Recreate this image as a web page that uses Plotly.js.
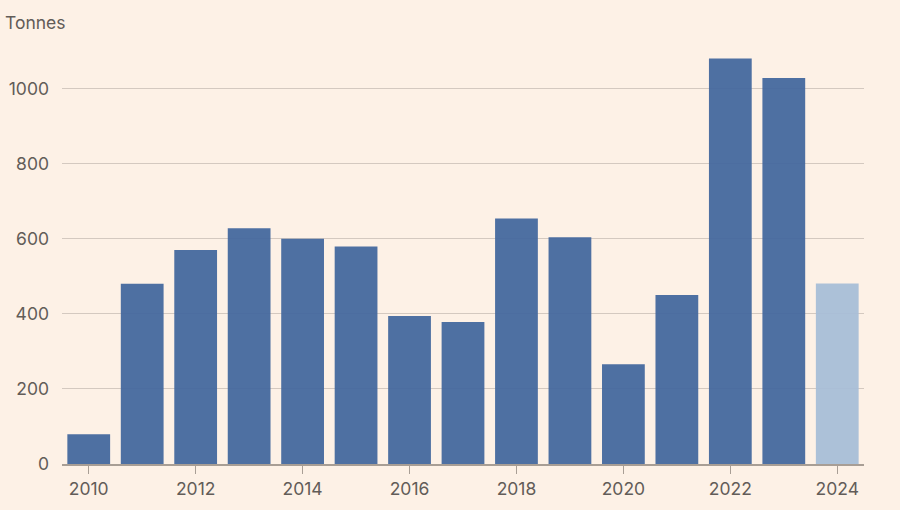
<!DOCTYPE html>
<html>
<head>
<meta charset="utf-8">
<script src="https://cdn.plot.ly/plotly-3.0.1.min.js"></script>
<style>html,body{margin:0;padding:0;background:#fdf1e6;}#chart{width:900px;height:510px;}</style>
</head>
<body>
<div id="chart"></div>
<script>
const years = [2010, 2011, 2012, 2013, 2014, 2015, 2016, 2017, 2018, 2019, 2020, 2021, 2022, 2023, 2024];
const tonnes = [79, 480, 570, 628, 600, 579, 394, 378, 654, 604, 266, 450, 1080, 1028, 481];
const provisionalYear = 2024;
const yTicks = [0, 200, 400, 600, 800, 1000];
const unitLabel = "Tonnes";

const barColors = years.map(y => y === provisionalYear ? "rgba(168,190,215,0.95)" : "rgba(68,104,158,0.95)");

const trace = {
  type: "bar",
  x: years,
  y: tonnes,
  marker: {color: barColors, line: {width: 0}},
  hoverinfo: "x+y"
};

const font = {family: "Inter, Lato, 'Open Sans', sans-serif", size: 17.5, color: "#625c58"};

const layout = {
  width: 900, height: 510,
  paper_bgcolor: "#fdf1e6",
  plot_bgcolor: "#fdf1e6",
  margin: {l: 62, r: 35.5, t: 50.7, b: 45.7},
  bargap: 0.2,
  showlegend: false,
  font: font,
  xaxis: {
    range: [2009.5, 2024.5],
    tickmode: "linear", tick0: 2010, dtick: 2,
    showgrid: false,
    showline: true, linecolor: "#a89e95", linewidth: 1.5,
    ticks: "outside", ticklen: 8, tickwidth: 1.5, tickcolor: "#a89e95",
    tickfont: font,
    zeroline: false, fixedrange: true
  },
  yaxis: {
    range: [0, 1100],
    tickvals: yTicks,
    showgrid: true, gridcolor: "#d4c9c0", gridwidth: 1,
    zeroline: false, showline: false,
    ticks: "", ticklabelstandoff: 12,
    tickfont: font, fixedrange: true
  },
  annotations: [{
    text: unitLabel, xref: "paper", yref: "paper",
    x: -59/802.5, y: 1 + (50.7-22)/413.6,
    xanchor: "left", yanchor: "middle", showarrow: false,
    font: font
  }]
};

Plotly.newPlot("chart", [trace], layout, {displayModeBar: false, staticPlot: true});
</script>
</body>
</html>
